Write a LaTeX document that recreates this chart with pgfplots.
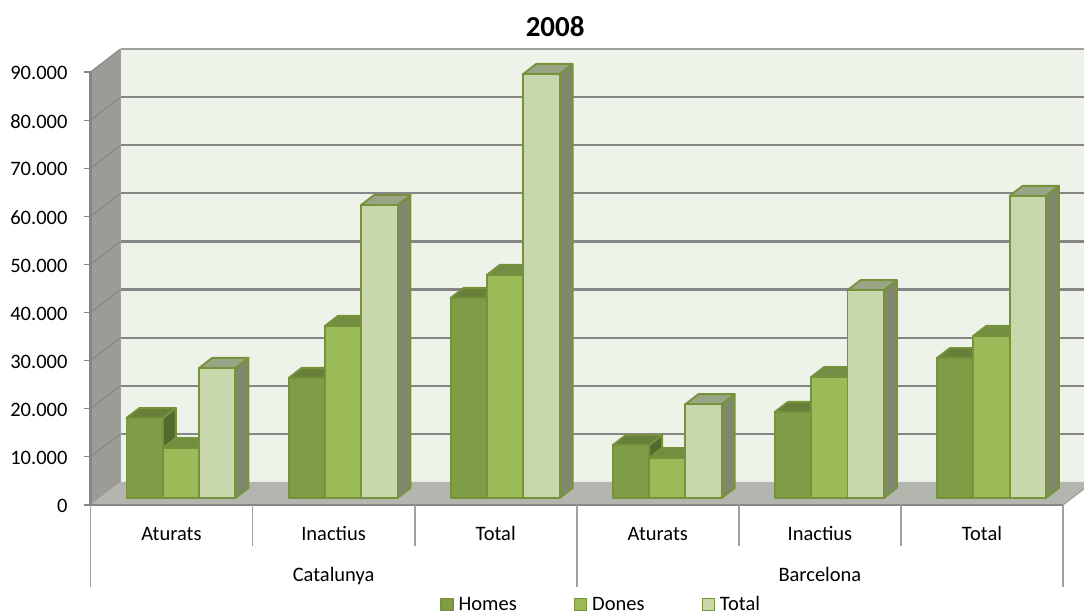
\documentclass[border=0pt]{standalone}
\usepackage{pgfplots}
\pgfplotsset{compat=1.18}
\usepackage{fontspec}
\setmainfont{Carlito}

\definecolor{homesF}{HTML}{7F9D47}
\definecolor{homesS}{HTML}{54692D}
\definecolor{homesT}{HTML}{677F39}
\definecolor{donesF}{HTML}{9BBB59}
\definecolor{donesS}{HTML}{70883F}
\definecolor{donesT}{HTML}{738D42}
\definecolor{totalF}{HTML}{C8D7AC}
\definecolor{totalS}{HTML}{80896C}
\definecolor{totalT}{HTML}{9AA588}
\definecolor{edgeC}{HTML}{76933C}
\definecolor{wallC}{HTML}{EEF3EA}
\definecolor{sideC}{HTML}{9A9C95}
\definecolor{floorC}{HTML}{B3B5AE}
\definecolor{gridC}{HTML}{868686}
\definecolor{lineC}{HTML}{A0A0A0}

% one bar: x in px from the axis, value in thousands, series prefix
\newcommand{\threedbar}[3]{%
  \pgfmathsetmacro\xa{#1}%
  \pgfmathsetmacro\xb{#1+36.3}%
  \pgfmathsetmacro\xc{#1+49.3}%
  \pgfmathsetmacro\xd{#1+13}%
  \pgfmathsetmacro\yt{#2+1.455}%
  \pgfmathsetmacro\yu{#2+3.535}%
  \addplot[forget plot,draw=edgeC,line width=1.9pt,line join=round,fill=#3S]
    coordinates {(\xb,1.455)(\xc,3.535)(\xc,\yu)(\xb,\yt)} -- cycle;
  \addplot[forget plot,draw=edgeC,line width=1.9pt,line join=round,fill=#3T]
    coordinates {(\xa,\yt)(\xd,\yu)(\xc,\yu)(\xb,\yt)} -- cycle;
  \addplot[forget plot,draw=edgeC,line width=1.9pt,line join=round,fill=#3F]
    coordinates {(\xa,1.455)(\xa,\yt)(\xb,\yt)(\xb,1.455)} -- cycle;
}
\newcommand{\cluster}[4]{%
  \pgfmathsetmacro\xg{36+162.1*#1}%
  \threedbar{\xg}{#2}{homes}%
  \pgfmathsetmacro\xg{72.3+162.1*#1}%
  \threedbar{\xg}{#3}{dones}%
  \pgfmathsetmacro\xg{108.6+162.1*#1}%
  \threedbar{\xg}{#4}{total}%
}
% gridline over side wall and back wall
\newcommand{\gridline}[3]{%
  \pgfmathsetmacro\yb{#1+4.78}%
  \addplot[forget plot,draw=gridC,line width=1.1pt] coordinates {(0,#1)(30,\yb)};
  \addplot[forget plot,draw=#3,line width=#2] coordinates {(30,\yb)(1002.5,\yb)};
}

\begin{document}
\begin{tikzpicture}
\useasboundingbox (0,0) rectangle (1084pt,612pt);
\clip (0,0) rectangle (1084pt,612pt);
\begin{axis}[
  at={(90.5pt,107pt)},anchor=south west,
  scale only axis,width=993.5pt,height=456pt,
  xmin=0,xmax=993.5,ymin=0,ymax=94.78,
  clip=false,
  axis line style={draw=none},
  font=\fontsize{20.5pt}{24pt}\selectfont,
  ytick={0,10,...,90},
  yticklabels={0,10.000,20.000,30.000,40.000,50.000,60.000,70.000,80.000,90.000},
  y tick style={draw=gridC,line width=1.1pt},
  tick align=outside,
  major tick length=6.5pt,
  yticklabel style={xshift=-13pt,yshift=-1pt},
  xtick={81,243.1,405.2,567.3,729.4,891.5},
  xticklabels={Aturats,Inactius,Total,Aturats,Inactius,Total},
  x tick style={draw=none},
  xticklabel style={anchor=base,yshift=-29pt},
  title={\bfseries 2008},
  title style={at={(0.4677,1)},anchor=base,yshift=6pt,font=\fontsize{29pt}{32pt}\selectfont},
  legend columns=3,
  legend cell align=left,
  legend style={at={(axis cs:349.5,-18.6)},anchor=north west,draw=none,fill=none,
    inner xsep=0pt,inner ysep=0pt,
    font=\fontsize{20.5pt}{24pt}\selectfont,
    /tikz/every odd column/.append style={column sep=3pt},
    /tikz/every even column/.append style={column sep=55pt}},
  legend image code/.code={\draw[#1] (0pt,-6pt) rectangle (12pt,6pt);},
]
% walls and floor
\addplot[forget plot,draw=none,fill=wallC] coordinates {(30,4.78)(30,94.78)(1002.5,94.78)(1002.5,4.78)} -- cycle;
\addplot[forget plot,draw=none,fill=sideC] coordinates {(0,0)(30,4.78)(30,94.78)(0,90)} -- cycle;
\addplot[forget plot,draw=none,fill=floorC] coordinates {(0,0)(30,4.78)(1002.5,4.78)(972.5,0)} -- cycle;
\gridline{10}{2.3pt}{gridC}
\gridline{20}{2.3pt}{gridC}
\gridline{30}{2.3pt}{gridC}
\gridline{40}{2.3pt}{gridC}
\gridline{50}{2.3pt}{gridC}
\gridline{60}{2.3pt}{gridC}
\gridline{70}{2.3pt}{gridC}
\gridline{80}{2.3pt}{gridC}
\gridline{90}{1.8pt}{lineC}
% axis lines
\addplot[forget plot,draw=gridC,line width=2.4pt] coordinates {(0,90)(0,0)(972.5,0)};
\addplot[forget plot,draw=lineC,line width=1.1pt] coordinates {(30,4.78)(30,94.78)};
\addplot[forget plot,draw=lineC,line width=1.1pt] coordinates {(972.5,0)(1002.5,4.78)};
% category separators
\addplot[forget plot,draw=lineC,line width=1.6pt] coordinates {(0,0)(0,-17.0)};
\addplot[forget plot,draw=lineC,line width=1.6pt] coordinates {(162.1,0)(162.1,-8.6)};
\addplot[forget plot,draw=lineC,line width=1.6pt] coordinates {(324.2,0)(324.2,-8.6)};
\addplot[forget plot,draw=lineC,line width=1.6pt] coordinates {(486.3,0)(486.3,-17.0)};
\addplot[forget plot,draw=lineC,line width=1.6pt] coordinates {(648.4,0)(648.4,-8.6)};
\addplot[forget plot,draw=lineC,line width=1.6pt] coordinates {(810.5,0)(810.5,-8.6)};
\addplot[forget plot,draw=lineC,line width=1.6pt] coordinates {(972.5,0)(972.5,-17.0)};
% bars: Homes, Dones, Total (thousands)
\cluster{0}{16.63}{10.40}{27.03}
\cluster{1}{24.95}{35.76}{60.90}
\cluster{2}{41.60}{46.40}{88.15}
\cluster{3}{11.00}{8.30}{19.50}
\cluster{4}{17.90}{25.15}{43.20}
\cluster{5}{29.10}{33.70}{62.80}
\node[anchor=base] at (axis cs:243.1,-15.8) {Catalunya};
\node[anchor=base] at (axis cs:729.4,-15.8) {Barcelona};
\addlegendimage{draw=edgeC,line width=1.4pt,fill=homesF}
\addlegendentry{Homes}
\addlegendimage{draw=edgeC,line width=1.4pt,fill=donesF}
\addlegendentry{Dones}
\addlegendimage{draw=edgeC,line width=1.4pt,fill=totalF}
\addlegendentry{Total}
\end{axis}
\end{tikzpicture}
\end{document}
